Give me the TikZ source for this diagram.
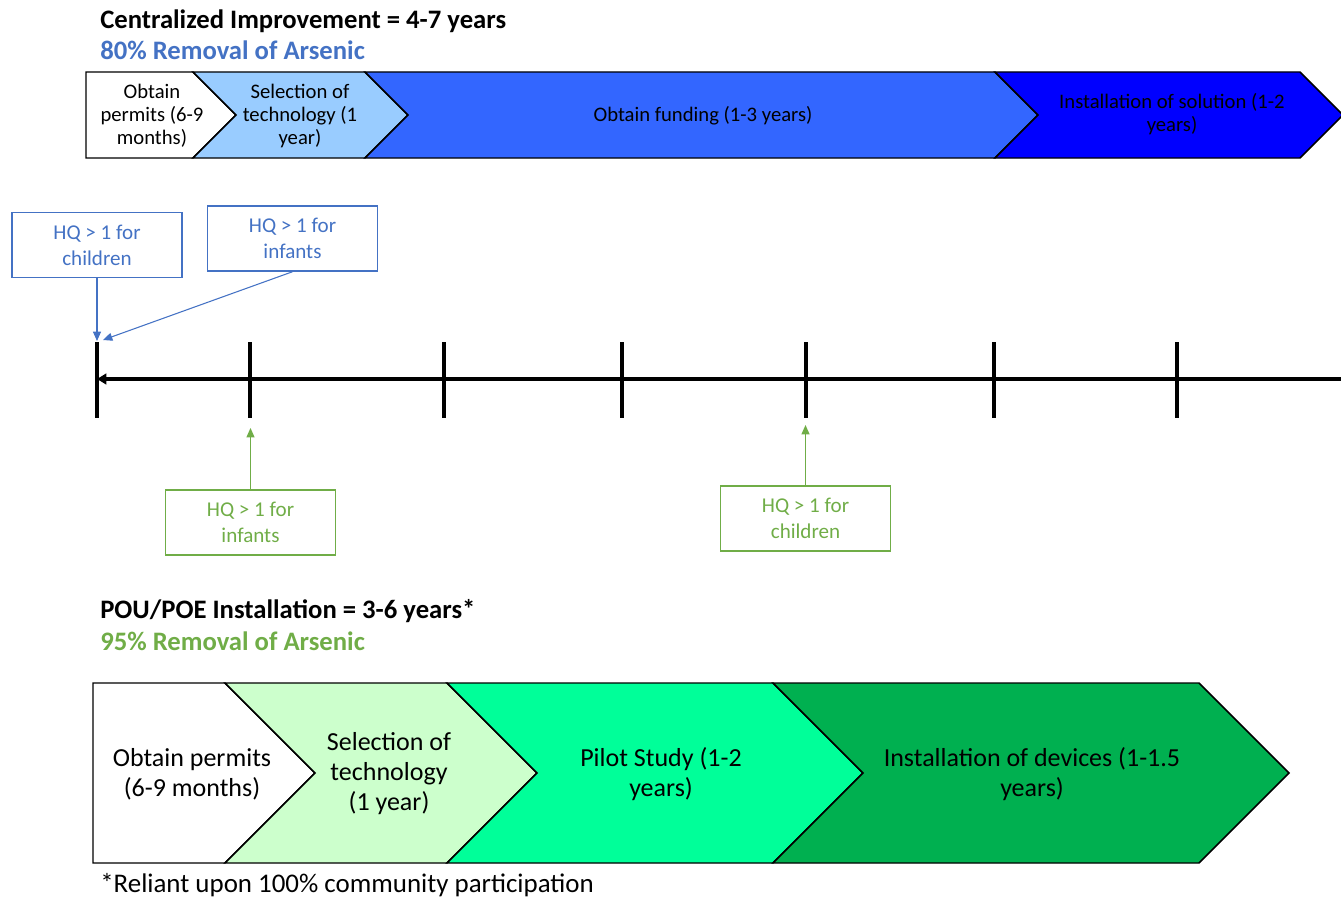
\documentclass[tikz,border=0pt]{standalone}
\usepackage{fontspec}
\setmainfont{Carlito}
\usepackage{tikz}
\usetikzlibrary{arrows.meta}
\definecolor{accentblue}{HTML}{4472C4}
\definecolor{accentgreen}{HTML}{70AD47}
\definecolor{paleblue}{HTML}{99CCFF}
\definecolor{midblue}{HTML}{3366FF}
\definecolor{deepblue}{HTML}{0000FF}
\definecolor{palegreen}{HTML}{CCFFCC}
\definecolor{mintgreen}{HTML}{00FF99}
\definecolor{leafgreen}{HTML}{00B050}
\tikzset{
  phase/.style={draw=black, line width=1.1pt},
  phasetext/.style={font=\fontsize{15.5}{17.25}\selectfont, align=center, text=black, inner sep=0pt},
  bigphasetext/.style={font=\fontsize{19.5}{22.5}\selectfont, align=center, text=black, inner sep=0pt},
  heading/.style={font=\fontsize{20}{24}\selectfont\bfseries, anchor=base west, inner sep=0pt},
  footnote/.style={font=\fontsize{20.2}{24}\selectfont, anchor=base west, inner sep=0pt},
  hqbox/.style={draw, line width=1.1pt, minimum width=127.5pt, minimum height=48.75pt,
    align=center, inner sep=0pt, font=\fontsize{15.8}{19.5}\selectfont},
  hqblue/.style={hqbox, draw=accentblue, text=accentblue},
  hqgreen/.style={hqbox, draw=accentgreen, text=accentgreen},
  axisline/.style={{Triangle[length=7pt,width=8pt]}-{Triangle[length=7pt,width=8pt]}, line width=3pt},
  tickmark/.style={line width=3pt},
  pointer/.style={-{Triangle[length=7pt,width=6pt]}, line width=0.8pt}
}

\begin{document}
\begin{tikzpicture}[x=0.75pt, y=-0.75pt]
  \useasboundingbox (0,0) rectangle (1341,899);

  % centralized improvement
  \node[heading] (centralTitle) at (100,29) {Centralized Improvement = 4-7 years};
  \node[heading, text=accentblue] (centralGoal) at (100,60) {80\% Removal of Arsenic};
  \foreach \l/\r/\n/\c in {86/193/0/white, 193/365/43/paleblue, 365/995/43/midblue, 995/1300/43/deepblue}
    \draw[phase, fill=\c] (\l,72) -- (\r,72) -- (\r+43,115) -- (\r,158) -- (\l,158) -- (\l+\n,115) -- cycle;
  \node[phasetext] (permitsA) at (152,115.5) {Obtain\\permits (6-9\\months)};
  \node[phasetext] (selectA) at (300,115.5) {Selection of\\technology (1\\year)};
  \node[phasetext] (funding) at (703,115.5) {Obtain funding (1-3 years)};
  \node[phasetext] (installA) at (1172,114.5) {Installation of solution (1-2\\years)};

  % timeline
  \coordinate (axisL) at (97,379);
  \coordinate (axisR) at (1352,379);
  \draw[axisline] (axisR) -- (axisL);
  \foreach \x in {97,250,444,622,806,994,1177}
    \draw[tickmark] (\x,342) -- (\x,418);

  \node[hqblue] (childBlue) at (97,245) {HQ > 1 for\\children};
  \node[hqblue] (infantBlue) at (292.5,238.5) {HQ > 1 for\\infants};
  \coordinate (childBlueEnd) at (97,341);
  \coordinate (infantBlueEnd) at (103,340);
  \draw[pointer, accentblue] (childBlue.south) -- (childBlueEnd);
  \draw[pointer, accentblue] (infantBlue.south) -- (infantBlueEnd);

  \node[hqgreen] (infantGreen) at (250.5,522.5) {HQ > 1 for\\infants};
  \node[hqgreen] (childGreen) at (805.5,518.5) {HQ > 1 for\\children};
  \coordinate (infantGreenEnd) at (250.5,428);
  \coordinate (childGreenEnd) at (805.5,425);
  \draw[pointer, accentgreen] (infantGreen.north) -- (infantGreenEnd);
  \draw[pointer, accentgreen] (childGreen.north) -- (childGreenEnd);

  % point of use / point of entry
  \node[heading] (pouTitle) at (100,618) {POU/POE Installation = 3-6 years*};
  \node[heading, text=accentgreen] (pouGoal) at (100,650) {95\% Removal of Arsenic};
  \foreach \l/\r/\n/\c in {93/225/0/white, 225/447/90/palegreen, 447/773/90/mintgreen, 773/1199/90/leafgreen}
    \draw[phase, fill=\c] (\l,683) -- (\r,683) -- (\r+90,773) -- (\r,863) -- (\l,863) -- (\l+\n,773) -- cycle;
  \node[bigphasetext] (permitsB) at (192,774) {Obtain permits\\(6-9 months)};
  \node[bigphasetext] (selectB) at (389,774) {Selection of\\technology\\(1 year)};
  \node[bigphasetext] (pilot) at (661,774) {Pilot Study (1-2\\years)};
  \node[bigphasetext] (installB) at (1032,774) {Installation of devices (1-1.5\\years)};
  \node[footnote] (reliant) at (100,892) {*Reliant upon 100\% community participation};
\end{tikzpicture}
\end{document}
